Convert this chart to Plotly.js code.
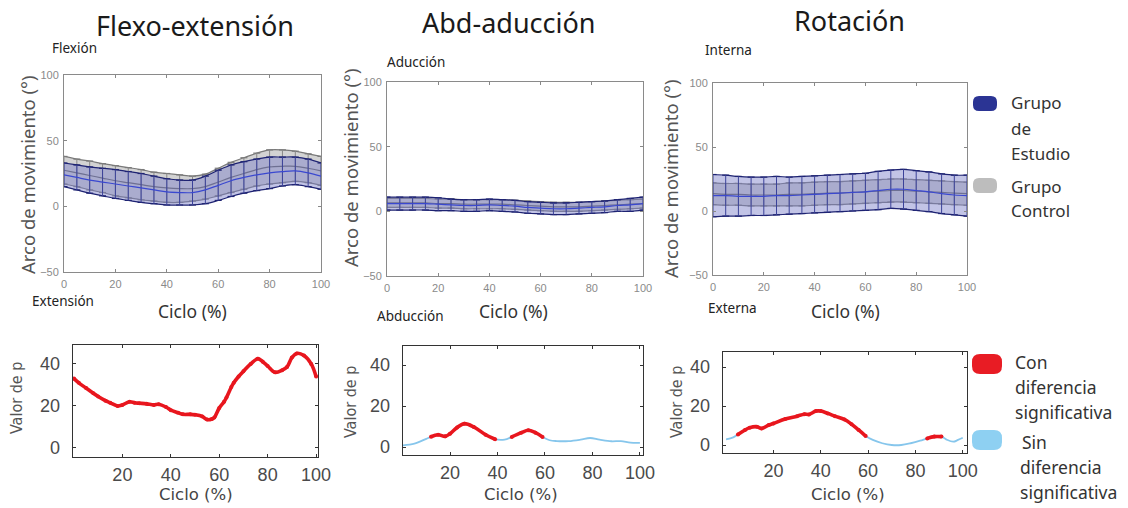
<!DOCTYPE html>
<html><head><meta charset="utf-8">
<script src="https://cdn.plot.ly/plotly-3.0.1.min.js"></script>
<style>html,body{margin:0;padding:0;background:#fff}#chart{width:1128px;height:508px}</style>
</head><body><div id="chart"></div>
<script>
// ---------- DATA ----------
const cycleX = [0,5,10,15,20,25,30,35,40,45,50,55,60,65,70,75,80,85,90,95,100];

// Flexo-extensión (top-left)
const flexStudyMean = [24,22,20,18.5,17,15.5,14,12.5,11,10.5,10.5,12.5,16,19.5,22,24,25.5,26.5,27,25.5,23];
const flexStudySD   = [9,9.5,10,10.5,11,11,11,10.5,10,9.5,9.5,10.5,11.5,12,12,12,12,11,10.5,10.5,10];
const flexCtrlMean  = [27.5,25.5,23.5,21.5,19.5,18,16.5,15,14,13.5,13.5,15,18.5,22,25,28,30,30.5,30.5,29,27];
const flexCtrlSD    = [10.5,10.5,11,11,11.5,11.5,11.5,11,11,10.5,9.5,9.5,10.5,11.5,12,12.5,13,12.5,11.5,11,11];

// Abd-aducción (top-middle)
const abdStudyMean = [6,6,6,6,5.5,5,4.5,4.5,5,4.5,4,3,2.5,2,2,2.5,3,3.5,4.5,5,6];
const abdStudySD   = [5,5,5,5,5,4.5,4.5,4.5,4.5,4.5,4.5,4.5,4.5,4.5,4.5,4.5,4.5,4.5,4.5,5,5];
const abdCtrlMean  = [6.5,6.5,6.5,6.5,6,6,5.5,5.5,5.5,5.5,5,4.5,4,3.5,3.5,3.5,4,4.5,5,5.5,6];
const abdCtrlSD    = [3.5,3.5,3.5,3.5,3.5,3.5,3.5,3.5,3.5,3.5,3.5,3.5,3.5,3.5,3.5,3.5,3.5,3.5,3.5,3.5,3.5];

// Rotación (top-right)
const rotStudyMean = [12,12,11.5,11.5,11.5,12,12,12.5,13,13.5,14,14.5,15,16,17,17,16,15,13.5,12.5,12];
const rotStudySD   = [16.5,16,15.5,15,15,15,14.5,14.5,14.5,14.5,14.5,14.5,14.5,15,15,15.5,15.5,15.5,15.5,15.5,16];
const rotCtrlMean  = [13.5,13,13,12.5,12.5,12.5,13,13,13.5,14,14,14.5,15,15.5,16,16,15.5,15,14.5,14,13.5];
const rotCtrlSD    = [8.5,8.5,8.5,8.5,8.5,8.5,9,9,9,9,9,9,9,9,9,9,9,9,9,9,9];

// Valor de p (bottom row)
const pFlexX = [0,2,5,8,10,13,15,18,20,23,25,27,30,33,35,38,40,43,45,48,50,53,55,57,58,60,62,63,65,66,68,70,73,76,78,80,83,86,88,90,92,95,98,100];
const pFlexY = [33,31,28.5,26,24.5,22.5,21.5,20,20.5,22,21.5,21.3,21,20.5,20.8,19.5,18,16.8,16,16,15.8,15,13.5,13.8,14.5,19,22,24,29,31,34,36.5,40,42.5,41,39,36,37,38.5,43,45,44,40,34];
const pFlexSig = [[0,100]];

const pAbdX = [0,5,10,12,15,18,20,23,26,30,35,39,43,46,50,53,56,59,62,65,70,75,79,83,88,92,96,100];
const pAbdY = [0.8,1.6,4,5,6,5.2,6.5,9.5,11.4,9.8,6,3.8,3.6,4.9,7,8.2,7,4.9,3.3,2.9,2.9,3.6,4.4,3.6,2.8,2.9,2.1,2];
const pAbdSig = [[12,39],[46,59]];

const pRotX = [0,3,5,8,10,13,15,18,20,25,30,33,35,38,40,43,46,50,53,56,59,62,66,70,74,78,82,85,88,91,93,96,98,100];
const pRotY = [2.9,3.9,5.4,7.7,8.9,9.4,8.5,10.2,11,13.3,14.8,15.8,15.7,17.4,17.4,16.2,14.8,13.1,10.7,7.7,4.6,2.6,0.9,0,0,0.9,2.2,3.4,4.3,4.3,2.9,1.7,2.6,3.7];
const pRotSig = [[5,59],[85,92]];

const titles = ["Flexo-extensión","Abd-aducción","Rotación"];
const topLabels = [["Flexión","Extensión"],["Aducción","Abducción"],["Interna","Externa"]];
const yTopTicks = [-50,0,50,100];
const xTopTicks = [0,20,40,60,80,100];
const yBotTicks = [0,20,40];
const xBotTicks = [20,40,60,80,100];
const legendTop = [["Grupo","de","Estudio"],["Grupo","Control"]];
const legendBot = [["Con","diferencia","significativa"],["Sin","diferencia","significativa"]];

// ---------- LAYOUT HELPERS ----------
const W = 1128, H = 508;
const px = x => x / W, py = y => 1 - y / H;

const STUDY_LINE = '#1e2372', STUDY_MEAN = '#3a48d0';
const CTRL_LINE = '#7a7a7a';
const RED = '#e8161e', LBLUE = '#86c6ec';

const traces = [];
function band(xa, ya, mean, sd, ctrl) {
  const up = mean.map((m,i)=>m+sd[i]);
  const lo = mean.map((m,i)=>m-sd[i]);
  const lc = ctrl ? CTRL_LINE : STUDY_LINE;
  traces.push({x: cycleX, y: lo, xaxis: xa, yaxis: ya, mode:'lines+markers', line:{color: lc, width: 1.2, shape:'spline'},
    marker:{symbol:'line-ew', size:5, line:{color: lc, width:1.2}}, hoverinfo:'skip', showlegend:false});
  traces.push({x: cycleX, y: up, xaxis: xa, yaxis: ya, mode:'lines+markers', fill:'tonexty',
    fillcolor: ctrl ? 'rgba(175,175,175,0.55)' : 'rgba(120,125,200,0.45)',
    line:{color: lc, width: 1.2, shape:'spline'},
    marker:{symbol:'line-ew', size:5, line:{color: lc, width:1.2}}, hoverinfo:'skip', showlegend:false});
  traces.push({x: cycleX, y: mean, xaxis: xa, yaxis: ya, mode:'lines', line:{color: ctrl ? '#666' : STUDY_MEAN, width: 1.2, shape:'spline'},
    error_y: {type:'data', array: sd, visible:true, color: ctrl ? '#888' : '#3b4299', thickness:1, width:0},
    hoverinfo:'skip', showlegend:false});
}
band('x','y', flexCtrlMean, flexCtrlSD, true);
band('x','y', flexStudyMean, flexStudySD, false);
band('x2','y2', abdCtrlMean, abdCtrlSD, true);
band('x2','y2', abdStudyMean, abdStudySD, false);
band('x3','y3', rotCtrlMean, rotCtrlSD, true);
band('x3','y3', rotStudyMean, rotStudySD, false);

function pline(xa, ya, xs, ys, sig) {
  const inSig = x => sig.some(r => x >= r[0] && x <= r[1]);
  traces.push({x: xs, y: ys, xaxis: xa, yaxis: ya, mode:'lines', line:{color: LBLUE, width:1.8, shape:'spline'}, hoverinfo:'skip', showlegend:false});
  traces.push({x: xs, y: ys.map((v,i)=> inSig(xs[i]) ? v : null), xaxis: xa, yaxis: ya, mode:'lines+markers', connectgaps:false,
    line:{color: RED, width:3.6, shape:'spline'}, marker:{color: RED, size:4}, hoverinfo:'skip', showlegend:false});
}
pline('x4','y4', pFlexX, pFlexY, pFlexSig);
pline('x5','y5', pAbdX, pAbdY, pAbdSig);
pline('x6','y6', pRotX, pRotY, pRotSig);

// axis boxes in pixels: [left, right, top, bottom]
const topBoxes = [[64,321,75,272],[387,643,82,276],[713,967,83,275]];
const botBoxes = [[73,318,345,457],[403,643,346,455],[723,967,352,453]];
const botXRange = [[-0.4,100.8],[0.2,101.3],[-1.3,101.8]];
const botYRange = [[-4.3,49],[-3.9,49.3],[-4.1,47.7]];

const layout = {width:W, height:H, margin:{l:0,r:0,t:0,b:0}, paper_bgcolor:'#fff', plot_bgcolor:'#fff',
  showlegend:false, font:{family:'Noto Sans, sans-serif'}, annotations:[], shapes:[]};

topBoxes.forEach((b,i)=>{
  const s = i===0 ? '' : String(i+1);
  layout['xaxis'+s] = {domain:[px(b[0]),px(b[1])], anchor:'y'+s, range:[0,100], tickvals:xTopTicks, ticks:'inside', ticklen:3,
    tickcolor:'#888', showline:true, mirror:'allticks', linecolor:'#8a8a8a', linewidth:1, showgrid:false, zeroline:false,
    tickfont:{family:'Liberation Sans, Arial, sans-serif', size:11, color:'#8a8a8a'}, ticklabelstandoff:2};
  layout['yaxis'+s] = {domain:[py(b[3]),py(b[2])], anchor:'x'+s, range:[-50,100], tickvals:yTopTicks, ticks:'inside', ticklen:3,
    tickcolor:'#888', showline:true, mirror:'allticks', linecolor:'#8a8a8a', linewidth:1, showgrid:false, zeroline:false,
    tickfont:{family:'Liberation Sans, Arial, sans-serif', size:11, color:'#8a8a8a'}, ticklabelstandoff:2};
});
botBoxes.forEach((b,i)=>{
  const s = String(i+4);
  layout['xaxis'+s] = {domain:[px(b[0]),px(b[1])], anchor:'y'+s, range:botXRange[i], tickvals:xBotTicks, ticks:'inside', ticklen:3,
    tickcolor:'#333', showline:true, mirror:'allticks', linecolor:'#333', linewidth:1.3, showgrid:false, zeroline:false,
    tickfont:{family:'Liberation Sans, Arial, sans-serif', size:18, color:'#4a4a4a'}, ticklabelstandoff:1};
  layout['yaxis'+s] = {domain:[py(b[3]),py(b[2])], anchor:'x'+s, range:botYRange[i], tickvals:yBotTicks, ticks:'inside', ticklen:3,
    tickcolor:'#333', showline:true, mirror:'allticks', linecolor:'#333', linewidth:1.3, showgrid:false, zeroline:false,
    tickfont:{family:'Liberation Sans, Arial, sans-serif', size:18, color:'#4a4a4a'}, ticklabelstandoff:8};
});

function txt(t, x, y, size, color, opts) {
  layout.annotations.push(Object.assign({text:t, x:px(x), y:py(y), xref:'paper', yref:'paper', showarrow:false,
    xanchor:'center', yanchor:'middle', font:{family:'Noto Sans, sans-serif', size:size, color:color}}, opts||{}));
}
// titles and side labels
const titlePos = [[195,25],[509,22],[849,20]];
titles.forEach((t,i)=> txt(t, titlePos[i][0], titlePos[i][1], 27, '#1a1a1a'));
const upPos = [[50,48],[385,62],[703,50]];
const dnPos = [[30,301],[375,316],[706,308]];
topLabels.forEach((p,i)=>{
  txt(p[0], upPos[i][0], upPos[i][1], 13.5, '#222', {xanchor:'left'});
  txt(p[1], dnPos[i][0], dnPos[i][1], 13.5, '#222', {xanchor:'left'});
});
// axis titles (top)
const yTitleTop = [[27,175],[350,168],[670,179]];
yTitleTop.forEach(p=> txt('Arco de movimiento (°)', p[0], p[1], 18.5, '#555', {textangle:-90}));
const xTitleTop = [[192,311],[513,311],[845,311]];
xTitleTop.forEach(p=> txt('Ciclo (%)', p[0], p[1], 17.5, '#333'));
// axis titles (bottom)
const yTitleBot = [[16,398],[350,402],[676,402]];
yTitleBot.forEach(p=> txt('Valor de p', p[0], p[1], 17, '#555', {textangle:-90, font:{family:'DejaVu Sans Condensed, Liberation Sans Narrow, sans-serif', size:16, color:'#555'}}));
const xTitleBot = [[196,494],[521,494],[848,494]];
xTitleBot.forEach(p=> txt('Ciclo (%)', p[0], p[1], 17, '#444', {font:{family:'DejaVu Sans, sans-serif', size:16.5, color:'#444'}}));

// legend swatches (rounded)
function rrect(x0,y0,x1,y1,r,color){
  const X = v=>px(v), Y = v=>py(v);
  const d = `M${X(x0+r)},${Y(y0)} L${X(x1-r)},${Y(y0)} Q${X(x1)},${Y(y0)} ${X(x1)},${Y(y0+r)} L${X(x1)},${Y(y1-r)} Q${X(x1)},${Y(y1)} ${X(x1-r)},${Y(y1)} L${X(x0+r)},${Y(y1)} Q${X(x0)},${Y(y1)} ${X(x0)},${Y(y1-r)} L${X(x0)},${Y(y0+r)} Q${X(x0)},${Y(y0)} ${X(x0+r)},${Y(y0)} Z`;
  layout.shapes.push({type:'path', xref:'paper', yref:'paper', path:d, fillcolor:color, line:{width:0}});
}
rrect(973,96,997,111,6,'#2b3494');
rrect(973,178,997,193,6,'#bdbdbd');
rrect(972,354,1002,374,8,'#e81c24');
rrect(972,430,1002,450,8,'#8ed0f2');
const legTopY = [[103,128,153],[186,211]];
legendTop.forEach((lines,k)=> lines.forEach((t,j)=> txt(t, 1009, legTopY[k][j], 17, '#333', {xanchor:'left'})));
const legBotY = [[362,387,412],[442,467,492]];
const legBotX = [[1013,1013,1013],[1020,1018,1018]];
legendBot.forEach((lines,k)=> lines.forEach((t,j)=> txt(t, legBotX[k][j], legBotY[k][j], 17.5, '#333', {xanchor:'left'})));

Plotly.newPlot('chart', traces, layout, {staticPlot:true, displayModeBar:false});
</script></body></html>
